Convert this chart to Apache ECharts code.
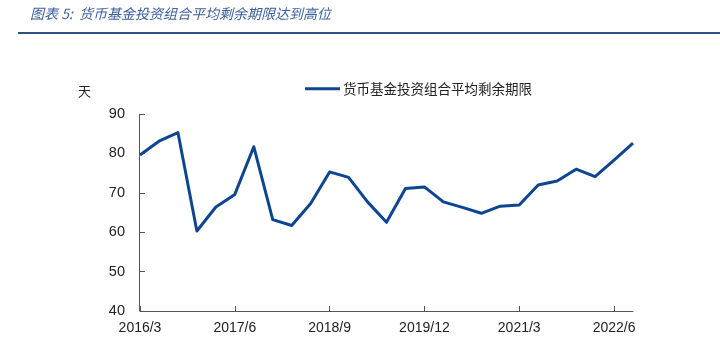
<!DOCTYPE html>
<html>
<head>
<meta charset="utf-8">
<script src="https://cdn.jsdelivr.net/npm/echarts@6/dist/echarts.min.js"></script>
<style>
  html, body { margin: 0; padding: 0; background: #fff; }
  #main { width: 720px; height: 338px; }
</style>
</head>
<body>
<div id="main"></div>
<script>
// 季度：2016/3 - 2022/9
var quarters = [
    '2016/3', '2016/6', '2016/9', '2016/12',
    '2017/3', '2017/6', '2017/9', '2017/12',
    '2018/3', '2018/6', '2018/9', '2018/12',
    '2019/3', '2019/6', '2019/9', '2019/12',
    '2020/3', '2020/6', '2020/9', '2020/12',
    '2021/3', '2021/6', '2021/9', '2021/12',
    '2022/3', '2022/6', '2022/9'
];
// 货币基金投资组合平均剩余期限（天）
var avgMaturity = [
    79.6, 83.1, 85.3, 60.3,
    66.4, 69.6, 81.7, 63.2,
    61.7, 67.3, 75.3, 73.9,
    67.7, 62.5, 71.1, 71.5,
    67.7, 66.3, 64.8, 66.6,
    66.9, 72.0, 73.0, 76.0,
    74.1, 78.3, 82.6
];
var seriesName = '货币基金投资组合平均剩余期限';
var titleText = '图表 5:  货币基金投资组合平均剩余期限达到高位';

var myChart = echarts.init(document.getElementById('main'));
var numFont = 'Liberation Sans';
var cjkFont = 'Noto Sans CJK SC';

var option = {
    backgroundColor: '#fff',
    animation: false,
    grid: { left: 140, right: 87, top: 114, bottom: 27 },
    graphic: [
        {
            type: 'text', left: 30, top: 7,
            style: {
                text: titleText,
                font: 'italic 14px "Noto Sans CJK SC"',
                fill: '#3a5f9e'
            }
        },
        {
            type: 'rect', left: 18, top: 32,
            shape: { width: 702, height: 2 },
            style: { fill: '#2e4f7f' }
        },
        {
            type: 'text', left: 78, top: 85,
            style: { text: '天', font: '13px "Noto Sans CJK SC"', fill: '#222' }
        },
        {
            // y 轴线，略在第一个点左侧
            type: 'rect', left: 139, top: 114,
            shape: { width: 1, height: 197 },
            style: { fill: '#555' }
        }
    ],
    legend: {
        left: 300, top: 77,
        icon: 'rect',
        itemWidth: 35, itemHeight: 3, itemGap: 0,
        textStyle: { fontFamily: cjkFont, fontSize: 13.5, color: '#222', padding: [0, 0, 0, -2] },
        data: [seriesName]
    },
    xAxis: {
        type: 'category',
        data: quarters,
        boundaryGap: false,
        axisLine: { lineStyle: { color: '#555', width: 1 } },
        axisTick: { inside: true, length: 5, interval: 4, lineStyle: { color: '#555' } },
        axisLabel: { interval: 4, color: '#222', fontFamily: numFont, fontSize: 14, margin: 10 },
        splitLine: { show: false }
    },
    yAxis: {
        type: 'value',
        min: 40, max: 90, interval: 10,
        axisLine: { show: false },
        axisTick: { show: true, inside: true, length: 5, lineStyle: { color: '#555' } },
        axisLabel: { color: '#222', fontFamily: numFont, fontSize: 14.5, margin: 15 },
        splitLine: { show: false }
    },
    series: [
        {
            name: seriesName,
            type: 'line',
            data: avgMaturity,
            symbol: 'none',
            lineStyle: { color: '#0e4592', width: 3, join: 'round' },
            itemStyle: { color: '#0e4592' }
        }
    ]
};
myChart.setOption(option);
</script>
</body>
</html>
